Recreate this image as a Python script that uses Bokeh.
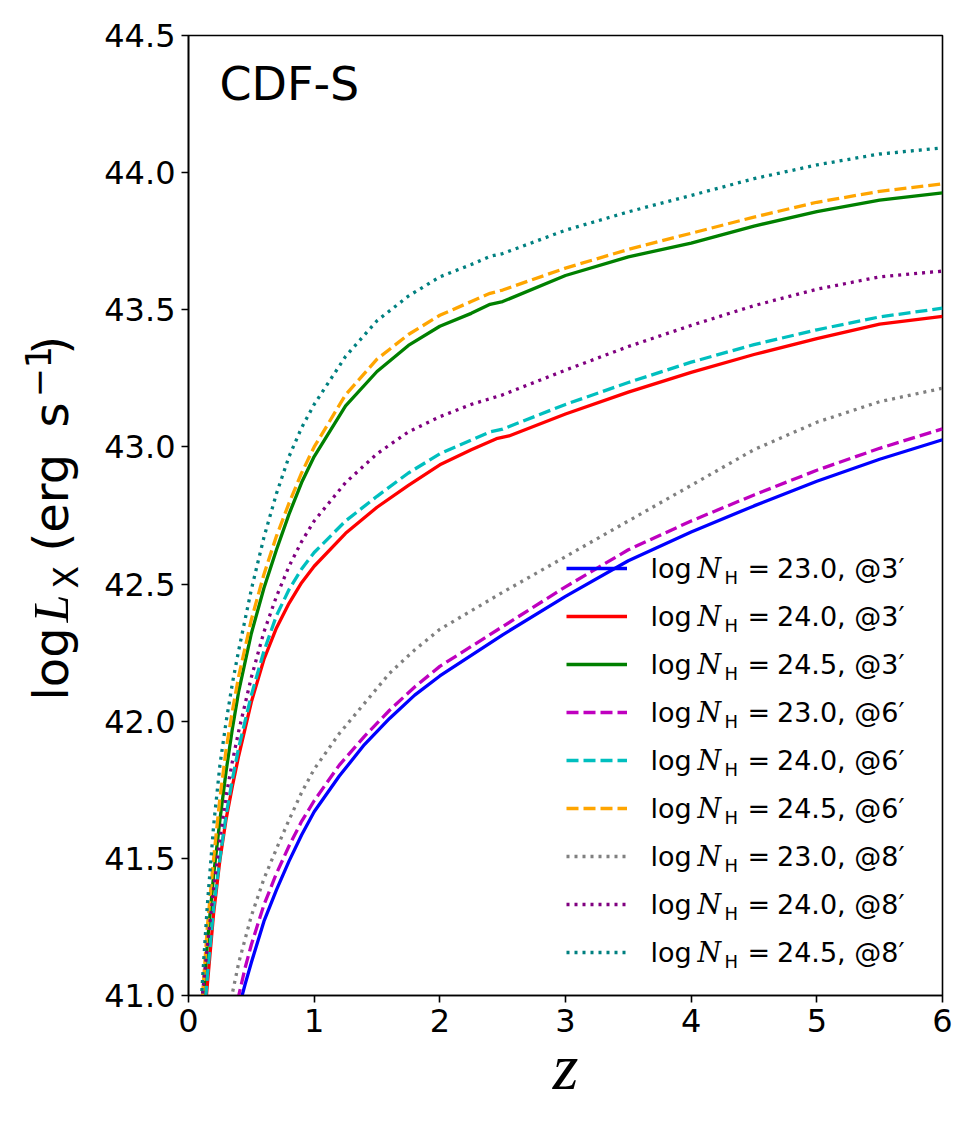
import math
from bokeh.plotting import figure
from bokeh.layouts import row
from bokeh.models import Range1d, Label, Legend, LegendItem, FixedTicker, PrintfTickFormatter
from bokeh.embed import file_html
from bokeh.resources import INLINE

# Limiting X-ray luminosity (log erg/s) versus redshift, CDF-S sensitivity
# for three column densities at three off-axis angles.
z_230_3 = [0.38, 0.45, 0.5, 0.6, 0.7, 0.8, 0.9, 1.0, 1.2, 1.4, 1.6, 1.8, 2.0, 2.5, 3.0, 3.5, 4.0, 4.5, 5.0, 5.5, 6.0]
lx_230_3 = [40.92, 41.04, 41.12, 41.27, 41.385, 41.49, 41.585, 41.67, 41.80, 41.915, 42.01, 42.095, 42.165,
            42.315, 42.455, 42.585, 42.69, 42.785, 42.875, 42.955, 43.026]

z_240_3 = [0.13, 0.15, 0.2, 0.25, 0.3, 0.35, 0.4, 0.5, 0.6, 0.7, 0.8, 0.9, 1.0, 1.25, 1.5, 1.75, 2.0, 2.25,
           2.4, 2.45, 2.55, 3.0, 3.5, 4.0, 4.5, 5.0, 5.5, 6.0]
lx_240_3 = [40.93, 41.04, 41.30, 41.495, 41.645, 41.765, 41.875, 42.07, 42.225, 42.34, 42.43, 42.505, 42.565,
            42.685, 42.78, 42.86, 42.935, 42.99, 43.02, 43.03, 43.04, 43.12, 43.20, 43.272, 43.337, 43.395,
            43.448, 43.476]

z_245_3 = [0.11, 0.12, 0.15, 0.2, 0.25, 0.3, 0.35, 0.4, 0.5, 0.6, 0.7, 0.8, 0.9, 1.0, 1.25, 1.5, 1.75, 2.0,
           2.25, 2.4, 2.5, 3.0, 3.5, 4.0, 4.5, 5.0, 5.5, 6.0]
lx_245_3 = [40.94, 41.0, 41.19, 41.44, 41.64, 41.82, 41.975, 42.11, 42.32, 42.485, 42.625, 42.755, 42.87,
            42.965, 43.15, 43.275, 43.37, 43.44, 43.487, 43.52, 43.53, 43.625, 43.693, 43.743, 43.805,
            43.858, 43.90, 43.926]

z_230_6 = [0.36, 0.45, 0.5, 0.6, 0.7, 0.8, 0.9, 1.0, 1.2, 1.4, 1.6, 1.8, 2.0, 2.5, 3.0, 3.5, 4.0, 4.5, 5.0, 5.5, 6.0]
lx_230_6 = [40.92, 41.10, 41.185, 41.33, 41.445, 41.545, 41.635, 41.71, 41.84, 41.945, 42.04, 42.125, 42.20,
            42.345, 42.49, 42.625, 42.73, 42.825, 42.915, 42.995, 43.066]

z_240_6 = [0.12, 0.14, 0.15, 0.2, 0.25, 0.3, 0.35, 0.4, 0.5, 0.6, 0.7, 0.8, 0.9, 1.0, 1.25, 1.5, 1.75, 2.0,
           2.25, 2.4, 2.5, 3.0, 3.5, 4.0, 4.5, 5.0, 5.5, 6.0]
lx_240_6 = [40.93, 41.01, 41.07, 41.32, 41.50, 41.66, 41.79, 41.905, 42.095, 42.255, 42.385, 42.48, 42.555,
            42.615, 42.73, 42.82, 42.905, 42.975, 43.025, 43.055, 43.065, 43.155, 43.235, 43.309, 43.373,
            43.427, 43.474, 43.506]

z_245_6 = [0.10, 0.11, 0.15, 0.2, 0.25, 0.3, 0.35, 0.4, 0.5, 0.6, 0.7, 0.8, 0.9, 1.0, 1.25, 1.5, 1.75, 2.0,
           2.25, 2.4, 2.5, 3.0, 3.5, 4.0, 4.5, 5.0, 5.5, 6.0]
lx_245_6 = [40.93, 40.99, 41.25, 41.50, 41.72, 41.90, 42.04, 42.165, 42.37, 42.535, 42.675, 42.795, 42.905,
            43.0, 43.19, 43.32, 43.41, 43.48, 43.53, 43.56, 43.572, 43.652, 43.72, 43.779, 43.838, 43.892,
            43.932, 43.959]

z_230_8 = [0.30, 0.35, 0.4, 0.5, 0.6, 0.7, 0.8, 0.9, 1.0, 1.2, 1.4, 1.6, 1.8, 2.0, 2.5, 3.0, 3.5, 4.0, 4.5,
           5.0, 5.5, 6.0]
lx_230_8 = [40.90, 41.01, 41.12, 41.29, 41.425, 41.535, 41.64, 41.74, 41.825, 41.955, 42.065, 42.175, 42.26,
            42.335, 42.47, 42.60, 42.73, 42.86, 42.99, 43.09, 43.165, 43.214]

z_240_8 = [0.09, 0.11, 0.15, 0.2, 0.25, 0.3, 0.35, 0.4, 0.5, 0.6, 0.7, 0.8, 0.9, 1.0, 1.25, 1.5, 1.75, 2.0,
           2.25, 2.5, 3.0, 3.5, 4.0, 4.5, 5.0, 5.5, 6.0]
lx_240_8 = [40.92, 41.0, 41.18, 41.39, 41.57, 41.73, 41.855, 41.965, 42.16, 42.325, 42.455, 42.565, 42.655,
            42.73, 42.87, 42.975, 43.055, 43.11, 43.155, 43.19, 43.28, 43.366, 43.443, 43.515, 43.575, 43.62,
            43.641]

z_245_8 = [0.09, 0.10, 0.12, 0.15, 0.2, 0.25, 0.3, 0.35, 0.4, 0.5, 0.6, 0.7, 0.8, 0.9, 1.0, 1.25, 1.5, 1.75,
           2.0, 2.25, 2.4, 2.5, 3.0, 3.5, 4.0, 4.5, 5.0, 5.5, 6.0]
lx_245_8 = [40.90, 40.97, 41.12, 41.33, 41.62, 41.84, 42.00, 42.14, 42.26, 42.48, 42.67, 42.83, 42.965, 43.07,
            43.155, 43.33, 43.46, 43.55, 43.62, 43.665, 43.695, 43.705, 43.79, 43.857, 43.917, 43.978, 44.028,
            44.068, 44.09]

nh_labels = ["23.0", "24.0", "24.5", "23.0", "24.0", "24.5", "23.0", "24.0", "24.5"]
offaxis_labels = ["3", "3", "3", "6", "6", "6", "8", "8", "8"]

x_ticks = [0, 1, 2, 3, 4, 5, 6]
y_ticks = [41.0, 41.5, 42.0, 42.5, 43.0, 43.5, 44.0, 44.5]

series = [
    (z_230_3, lx_230_3, "#0000ff", "solid"),
    (z_240_3, lx_240_3, "#ff0000", "solid"),
    (z_245_3, lx_245_3, "#008000", "solid"),
    (z_230_6, lx_230_6, "#bf00bf", "12 5"),
    (z_240_6, lx_240_6, "#00bfbf", "12 5"),
    (z_245_6, lx_245_6, "#ffa500", "12 5"),
    (z_230_8, lx_230_8, "#808080", "3 5"),
    (z_240_8, lx_240_8, "#800080", "3 5"),
    (z_245_8, lx_245_8, "#008080", "3 5"),
]

# page geometry: a narrow title strip on the left, then the plot
W, H = 975, 1125
STRIP = 100                      # width of the y-title strip
FRAME_LEFT = 188                 # page x of the plot frame's left edge
RIGHT, TOP, BOTTOM = 33, 35, 130
X0, X1 = 0.0, 6.0
Y0, Y1 = 41.0, 44.5
FW = W - FRAME_LEFT - RIGHT
FH = H - TOP - BOTTOM


def dx(px):
    """page x pixel -> data x"""
    return X0 + (px - FRAME_LEFT) / FW * (X1 - X0)


def dy(py):
    """page y pixel -> data y"""
    return Y1 - (py - TOP) / FH * (Y1 - Y0)


p = figure(width=W - STRIP, height=H, x_range=Range1d(X0, X1), y_range=Range1d(Y0, Y1),
           output_backend="svg", toolbar_location=None,
           min_border_left=FRAME_LEFT - STRIP, min_border_right=RIGHT,
           min_border_top=TOP, min_border_bottom=BOTTOM)
p.grid.visible = False
p.outline_line_color = "black"
p.outline_line_width = 1.6
p.background_fill_color = "white"
p.border_fill_color = "white"

p.xaxis.ticker = FixedTicker(ticks=x_ticks)
p.yaxis.ticker = FixedTicker(ticks=y_ticks)
p.xaxis.formatter = PrintfTickFormatter(format="%d")
p.yaxis.formatter = PrintfTickFormatter(format="%.1f")
for ax in (p.xaxis[0], p.yaxis[0]):
    ax.major_tick_in = 0
    ax.major_tick_out = 7
    ax.minor_tick_line_color = None
    ax.major_tick_line_width = 1.6
    ax.axis_line_width = 1.6
    ax.major_label_text_font = "DejaVu Sans"
    ax.major_label_text_font_size = "32px"
    ax.major_label_text_color = "black"
    ax.major_label_standoff = 6

# x-axis title
p.xaxis.axis_label = "z"
p.xaxis.axis_label_text_font = "Liberation Serif"
p.xaxis.axis_label_text_font_style = "italic"
p.xaxis.axis_label_text_font_size = "66px"
p.xaxis.axis_label_text_color = "black"
p.xaxis.axis_label_standoff = -5

renderers = []
for z, lx, color, dash in series:
    r = p.line(z, lx, line_color=color, line_width=3.3, line_dash=dash, line_cap="butt")
    renderers.append(r)

# legend: sample lines + numeric part of each entry
ROW0, ROWSTEP = 568.3, 47.93
items = [LegendItem(label=f"{nh}, @{ang}\u2032", renderers=[r])
         for nh, ang, r in zip(nh_labels, offaxis_labels, renderers)]
legend = Legend(items=items, location=(566 - FRAME_LEFT, (TOP + FH) - (ROW0 + 8 * ROWSTEP + 16)),
                glyph_width=61, glyph_height=20, label_height=20, label_standoff=150,
                spacing=17, padding=0, margin=0,
                label_text_font="DejaVu Sans", label_text_font_size="27px",
                label_text_color="black",
                border_line_alpha=0, background_fill_alpha=0)
p.add_layout(legend)

# "log N_H =" prefix of each legend entry
for i in range(len(nh_labels)):
    yc = ROW0 + i * ROWSTEP
    p.add_layout(Label(x=dx(650), y=dy(yc), text="log", text_font="DejaVu Sans",
                       text_font_size="27px", text_baseline="middle", text_color="black"))
    p.add_layout(Label(x=dx(697), y=dy(yc), text="N", text_font="DejaVu Serif",
                       text_font_style="italic", text_font_size="27px", text_baseline="middle",
                       text_color="black"))
    p.add_layout(Label(x=dx(724), y=dy(yc + 9), text="H", text_font="DejaVu Sans",
                       text_font_size="18px", text_baseline="middle", text_color="black"))
    p.add_layout(Label(x=dx(747), y=dy(yc), text="=", text_font="DejaVu Sans",
                       text_font_size="27px", text_baseline="middle", text_color="black"))

# field name
p.add_layout(Label(x=dx(219), y=dy(83), text="CDF-S", text_font="DejaVu Sans",
                   text_font_size="46px", text_baseline="middle", text_color="black"))

# left strip carrying the rotated y-axis title: log L_X (erg s^-1).
# Its frame lines up with the plot frame, so y here is (H - page y).
strip = figure(width=STRIP, height=H, x_range=Range1d(0, STRIP), y_range=Range1d(BOTTOM, H - TOP),
               output_backend="svg", toolbar_location=None,
               x_axis_location=None, y_axis_location=None,
               min_border_left=0, min_border_right=0,
               min_border_top=TOP, min_border_bottom=BOTTOM)
strip.grid.visible = False
strip.outline_line_color = None
strip.background_fill_color = "white"
strip.border_fill_color = "white"

ang = math.pi / 2
y_parts = [
    (700, 50, "log", "DejaVu Sans", "normal", "48px"),
    (622, 50, "L", "Liberation Serif", "italic", "50px"),
    (588, 66, "X", "DejaVu Sans", "normal", "33px"),
    (551, 50, "(erg", "DejaVu Sans", "normal", "48px"),
    (427, 50, "s", "DejaVu Sans", "normal", "48px"),
    (397, 37, "\u22121", "DejaVu Sans", "normal", "35px"),
    (354, 50, ")", "DejaVu Sans", "normal", "48px"),
]
for py, px, txt, font, style, size in y_parts:
    strip.add_layout(Label(x=px, y=H - py, text=txt, text_font=font, text_font_style=style,
                           text_font_size=size, angle=ang, text_align="left",
                           text_baseline="middle", text_color="black"))

page = row(strip, p, spacing=0)
open("out.html", "w").write(file_html(page, INLINE))
